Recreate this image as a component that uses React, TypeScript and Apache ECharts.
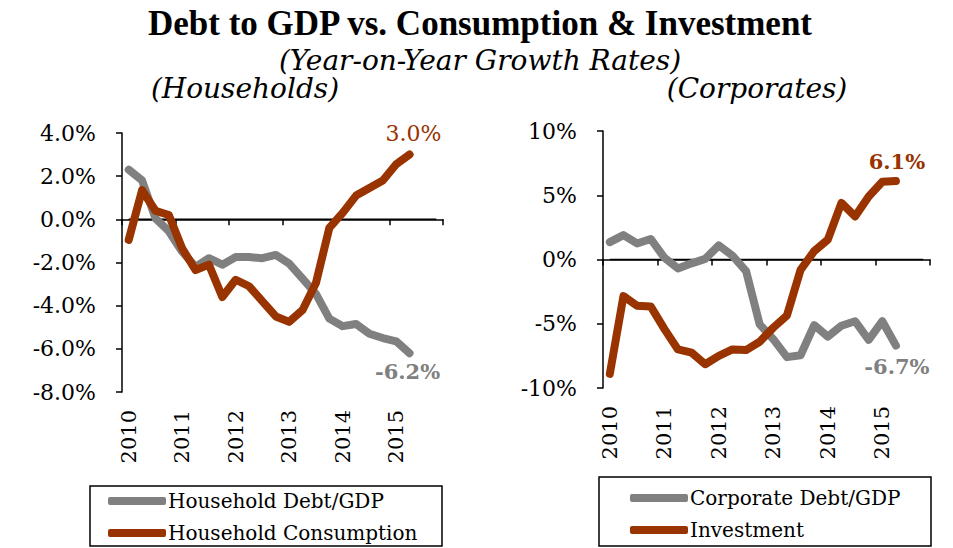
import React, { useEffect, useRef } from "react";
import * as echarts from "echarts";

const years = ["2010", "2011", "2012", "2013", "2014", "2015"];
const quarterNames = ["Q1", "Q2", "Q3", "Q4"];
const quarters: string[] = [];
for (const y of years) for (const q of quarterNames) quarters.push(y + " " + q);

const householdDebt = [2.3, 1.8, 0.05, -0.55, -1.5, -2.2, -1.8, -2.1, -1.75, -1.75, -1.8, -1.65, -2.05, -2.75, -3.45, -4.6, -4.95, -4.85, -5.3, -5.5, -5.65, -6.2];
const householdConsumption = [-0.95, 1.35, 0.4, 0.2, -1.35, -2.35, -2.1, -3.6, -2.8, -3.1, -3.8, -4.5, -4.75, -4.2, -2.95, -0.4, 0.3, 1.1, 1.45, 1.8, 2.55, 3.0];
const corporateDebt = [1.35, 1.9, 1.25, 1.6, 0.15, -0.7, -0.3, 0.05, 1.1, 0.3, -0.9, -5.05, -6.2, -7.6, -7.45, -5.1, -6.0, -5.15, -4.8, -6.25, -4.8, -6.7];
const investment = [-8.9, -2.85, -3.6, -3.65, -5.4, -7.0, -7.25, -8.15, -7.5, -7.0, -7.05, -6.4, -5.3, -4.35, -0.8, 0.65, 1.55, 4.4, 3.35, 4.9, 6.05, 6.1];
const zeroLine = quarters.map(() => 0);

const GRAY = "#808080";
const RED = "#993300";
const SERIF = "'DejaVu Serif', serif";
const TITLE_SERIF = "'Liberation Serif', serif";

function endMark(arr: number[], color: string, bold: boolean, offset: number[]) {
  const i = arr.length - 1;
  return {
    symbol: "circle",
    symbolSize: 0,
    silent: true,
    label: {
      show: true,
      position: "inside",
      offset,
      color,
      fontFamily: SERIF,
      fontSize: bold ? 21 : 22,
      fontWeight: bold ? "bold" : "normal",
      formatter: (p: any) => Number(p.value).toFixed(1) + "%",
    },
    data: [{ coord: [i, arr[i]], value: arr[i] }],
  };
}

export default function App() {
  const ref = useRef<HTMLDivElement>(null);
  useEffect(() => {
    if (!ref.current) return;
    const chart = echarts.init(ref.current, undefined, { renderer: "svg" });
    const xAxisCommon = {
      type: "category",
      data: quarters,
      boundaryGap: true,
      axisLine: { lineStyle: { color: "#000", width: 1.5 } },
      axisTick: { show: true, interval: 3, length: 6, lineStyle: { color: "#000", width: 1.5 } },
      axisLabel: {
        interval: 3,
        rotate: 90,
        margin: 18,
        color: "#000",
        fontFamily: SERIF,
        fontSize: 21,
        formatter: (v: string) => v.slice(0, 4),
      },
      splitLine: { show: false },
    };
    const yAxisCommon = {
      type: "value",
      axisLine: { show: true, lineStyle: { color: "#000", width: 1.5 } },
      axisTick: { show: true, length: 6, lineStyle: { color: "#000", width: 1.5 } },
      splitLine: { show: false },
    };
    const lineCommon = {
      type: "line",
      showSymbol: false,
      symbol: "none",
      lineStyle: { width: 8, cap: "round", join: "round" },
    };
    const legendText = { fontFamily: SERIF, fontSize: 20, color: "#000", lineHeight: 30, padding: [0, 0, 0, -3] };
    chart.setOption({
      animation: false,
      backgroundColor: "#fff",
      grid: [
        { left: 122, top: 133, width: 321, height: 259 },
        { left: 603, top: 131, width: 327, height: 257 },
      ],
      xAxis: [
        { ...xAxisCommon, gridIndex: 0 },
        { ...xAxisCommon, gridIndex: 1 },
      ],
      yAxis: [
        {
          ...yAxisCommon,
          gridIndex: 0,
          min: -8,
          max: 4,
          interval: 2,
          axisLabel: { margin: 26, color: "#000", fontFamily: SERIF, fontSize: 22, formatter: (v: number) => v.toFixed(1) + "%" },
        },
        {
          ...yAxisCommon,
          gridIndex: 1,
          min: -10,
          max: 10,
          interval: 5,
          axisLabel: { margin: 26, color: "#000", fontFamily: SERIF, fontSize: 22, formatter: (v: number) => v + "%" },
        },
      ],
      legend: [
        {
          data: ["Household Debt/GDP", "Household Consumption"],
          orient: "vertical",
          left: 108,
          top: 486,
          padding: 0,
          itemGap: 2,
          itemWidth: 58,
          itemHeight: 8,
          icon: "roundRect",
          textStyle: legendText,
        },
        {
          data: ["Corporate Debt/GDP", "Investment"],
          orient: "vertical",
          left: 630,
          top: 483,
          padding: 0,
          itemGap: 2,
          itemWidth: 58,
          itemHeight: 8,
          icon: "roundRect",
          textStyle: legendText,
        },
      ],
      graphic: [
        { type: "text", x: 480, y: 7, style: { text: "Debt to GDP vs. Consumption & Investment", font: "bold 35px " + TITLE_SERIF, lineHeight: 32, fill: "#000", textAlign: "center", textVerticalAlign: "top" } },
        { type: "text", x: 480, y: 46, style: { text: "(Year-on-Year Growth Rates)", font: "italic 28px " + SERIF, lineHeight: 28, fill: "#000", textAlign: "center", textVerticalAlign: "top" } },
        { type: "text", x: 245, y: 74.5, style: { text: "(Households)", font: "italic 28px " + SERIF, lineHeight: 28, fill: "#000", textAlign: "center", textVerticalAlign: "top" } },
        { type: "text", x: 757, y: 74.5, style: { text: "(Corporates)", font: "italic 28px " + SERIF, lineHeight: 28, fill: "#000", textAlign: "center", textVerticalAlign: "top" } },
        { type: "rect", shape: { x: 90, y: 486, width: 352, height: 60 }, style: { fill: "none", stroke: "#000", lineWidth: 1.5 } },
        { type: "rect", shape: { x: 599, y: 477, width: 332, height: 69 }, style: { fill: "none", stroke: "#000", lineWidth: 1.5 } },
      ],
      series: [
        { ...lineCommon, name: "Zero1", xAxisIndex: 0, yAxisIndex: 0, data: zeroLine, lineStyle: { width: 1.5, color: "#000" }, itemStyle: { color: "#000" }, z: 1 },
        { ...lineCommon, name: "Household Debt/GDP", xAxisIndex: 0, yAxisIndex: 0, color: GRAY, itemStyle: { color: GRAY }, data: householdDebt, markPoint: endMark(householdDebt, GRAY, true, [-2, 18]), z: 2 },
        { ...lineCommon, name: "Household Consumption", xAxisIndex: 0, yAxisIndex: 0, color: RED, itemStyle: { color: RED }, data: householdConsumption, markPoint: endMark(householdConsumption, RED, false, [4, -21]), z: 3 },
        { ...lineCommon, name: "Zero2", xAxisIndex: 1, yAxisIndex: 1, data: zeroLine, lineStyle: { width: 1.5, color: "#000" }, itemStyle: { color: "#000" }, z: 1 },
        { ...lineCommon, name: "Corporate Debt/GDP", xAxisIndex: 1, yAxisIndex: 1, color: GRAY, itemStyle: { color: GRAY }, data: corporateDebt, markPoint: endMark(corporateDebt, GRAY, true, [1, 21]), z: 2 },
        { ...lineCommon, name: "Investment", xAxisIndex: 1, yAxisIndex: 1, color: RED, itemStyle: { color: RED }, data: investment, markPoint: endMark(investment, RED, true, [1, -20]), z: 3 },
      ],
    });
    return () => chart.dispose();
  }, []);
  return <div ref={ref} style={{ position: "fixed", left: 0, top: 0, width: 953, height: 548 }} />;
}
